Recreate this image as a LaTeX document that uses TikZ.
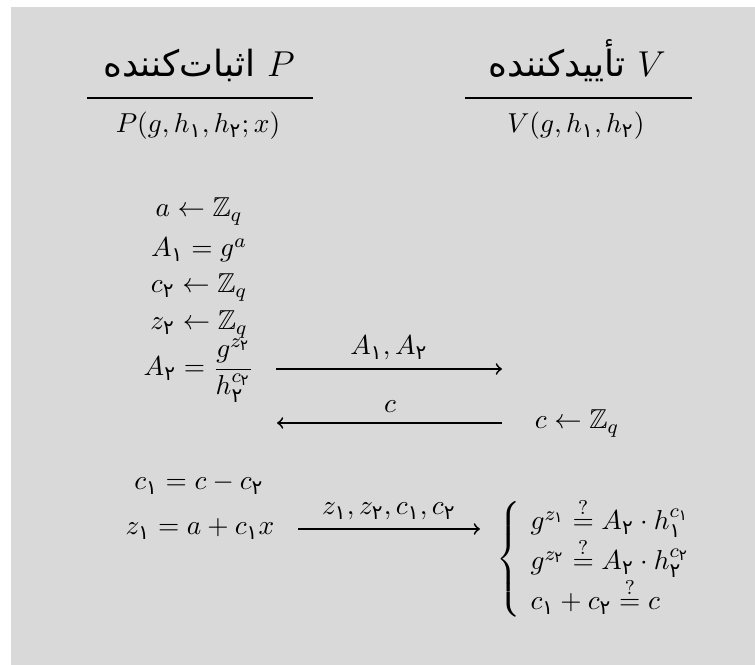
\documentclass[tikz,border=0pt]{standalone}
\usepackage{amsmath,amssymb}
\usepackage{fontspec}
\newfontfamily\arabicfont[Script=Arabic]{DejaVu Sans}
\TeXXeTstate=1
\definecolor{bg}{RGB}{217,217,217}
\newcommand\fdig[1]{\text{\arabicfont #1}}
\newcommand\yk{\fdig{١}}
\newcommand\dv{\fdig{٢}}
\newcommand\qeq{\stackrel{?}{=}}
\begin{document}
\begin{tikzpicture}[x=0.4pt,y=-0.4pt,
  every node/.append style={font=\fontsize{10.95pt}{13.6pt}\selectfont},
  lbl/.style={anchor=base,inner sep=0pt},
  lblw/.style={anchor=base west,inner sep=0pt},
  rulestyle/.style={line width=1.1pt},
  msg/.style={line width=0.75pt,->}]
\useasboundingbox (0,0) rectangle (755,665);
\fill[bg] (11,7) rectangle (755,665);
% headers
\node[lbl] (ph) at (199,77) {\Large{\arabicfont\beginR اثبات‌کننده\endR}~$P$};
\draw[rulestyle] (87,98) -- (313,98);
\node[lbl] (ps) at (198,133) {$P(g,h_{\yk},h_{\dv};x)$};
\node[lbl] (vh) at (577,77) {\Large{\arabicfont\beginR تأییدکننده\endR}~$V$};
\draw[rulestyle] (465,98) -- (692,98);
\node[lbl] (vs) at (576,133) {$V(g,h_{\yk},h_{\dv})$};
% prover steps
\node[lbl] (r1) at (199,217) {$a\leftarrow\mathbb{Z}_q$};
\node[lbl] (r2) at (199,257) {$A_{\yk}=g^a$};
\node[lbl] (r3) at (199,293) {$c_{\dv}\leftarrow\mathbb{Z}_q$};
\node[lbl] (r4) at (199,330) {$z_{\dv}\leftarrow\mathbb{Z}_q$};
\node[lbl] (r5) at (199,376) {$A_{\dv}=\dfrac{g^{z_{\dv}}}{h_{\dv}^{c_{\dv}}}$};
% message 1
\coordinate (m1s) at (276,369);
\coordinate (m1e) at (502,369);
\draw[msg] (m1s) -- (m1e);
\node[lbl] (m1l) at (389,355) {$A_{\yk},A_{\dv}$};
% message 2
\coordinate (m2s) at (502,423);
\coordinate (m2e) at (277,423);
\draw[msg] (m2s) -- (m2e);
\node[lbl] (m2l) at (390,413) {$c$};
\node[lbl] (vc) at (577,429) {$c\leftarrow\mathbb{Z}_q$};
% prover response
\node[lbl] (r6) at (199,490) {$c_{\yk}=c-c_{\dv}$};
\node[lbl] (r7) at (200,535) {$z_{\yk}=a+c_{\yk}x$};
% message 3
\coordinate (m3s) at (298,529);
\coordinate (m3e) at (480,529);
\draw[msg] (m3s) -- (m3e);
\node[lbl] (m3l) at (389,515) {$z_{\yk},z_{\dv},c_{\yk},c_{\dv}$};
% verification
\node[anchor=base west,inner sep=0pt] (br) at (496,566) {$\left\{\vrule width 0pt height 24.5pt depth 19.5pt\right.$};
\node[lblw] (v1) at (530,530) {$g^{z_{\yk}}\qeq A_{\dv}\cdot h_{\yk}^{c_{\yk}}$};
\node[lblw] (v2) at (530,570) {$g^{z_{\dv}}\qeq A_{\dv}\cdot h_{\dv}^{c_{\dv}}$};
\node[lblw] (v3) at (530,610) {$c_{\yk}+c_{\dv}\qeq c$};
\end{tikzpicture}
\end{document}
